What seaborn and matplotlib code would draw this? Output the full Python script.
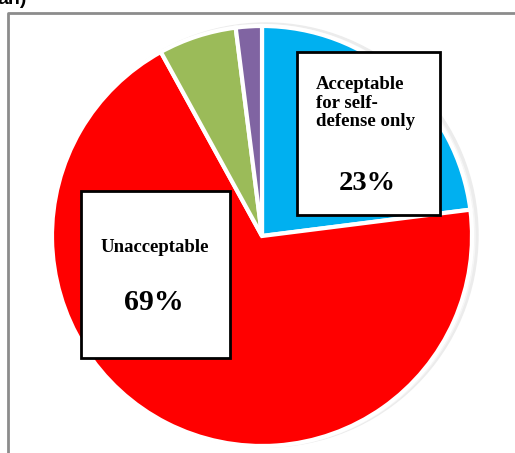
import matplotlib
matplotlib.use('Agg')
import matplotlib.pyplot as plt
import seaborn as sns
from matplotlib.patches import Rectangle, Circle

sns.set_style('white')
plt.rcParams['font.family'] = ['Liberation Serif', 'DejaVu Serif']
plt.rcParams['text.color'] = 'black'

# data (clockwise from 12 o'clock)
labels = ['Acceptable for self-defense only', 'Unacceptable', 'Other', 'Don\'t know']
shares = [23, 69, 6, 2]
colors = ['#00B0F0', '#FF0000', '#9BBB59', '#8064A2']
explode = [0.035, 0, 0, 0]

W, H = 515, 453
fig = plt.figure(figsize=(W / 100, H / 100), dpi=100)
ax = fig.add_axes([0, 0, 1, 1])

cx, cy, r = 262, H - 236, 210

# soft shadow to the right of the pie
ax.add_patch(Circle((cx + 4, cy + 1), r + 2, color='#ececec', zorder=0))
ax.add_patch(Circle((cx + 2, cy), r + 1, color='#f6f6f6', zorder=0))

wedges, _ = ax.pie(shares, colors=colors, explode=explode, startangle=90,
                   counterclock=False, center=(cx, cy), radius=r, frame=True,
                   wedgeprops=dict(edgecolor='white', linewidth=3))
for w in wedges:
    w.set_zorder(1)

ax.set_xlim(0, W)
ax.set_ylim(0, H)
ax.set_aspect('equal')
ax.axis('off')

# outer frame (chart area)
ax.plot([8, 8, W], [0, H - 13, H - 13], color='#8c8c8c', lw=2, zorder=3)

# label boxes
ax.add_patch(Rectangle((297, H - 215), 143, 163, facecolor='white',
                       edgecolor='black', lw=2, zorder=4))
ax.text(316, H - 76, 'Acceptable\nfor self-\ndefense only', fontsize=13.5,
        fontweight='bold', ha='left', va='top', linespacing=1.12, zorder=5)
ax.text(367, H - 183, f'{shares[0]}%', fontsize=20.5, fontweight='bold',
        ha='center', va='center', zorder=5)

ax.add_patch(Rectangle((81, H - 358), 149, 167, facecolor='white',
                       edgecolor='black', lw=2, zorder=4))
ax.text(155, H - 247, 'Unacceptable', fontsize=13.5, fontweight='bold',
        ha='center', va='center', zorder=5)
ax.text(154, H - 302, f'{shares[1]}%', fontsize=21.5, fontweight='bold',
        ha='center', va='center', zorder=5)

# cropped title remnant at top-left
fig.text(-0.005, 1.0, 'an)', fontsize=14, fontweight='bold', family='Liberation Sans',
         ha='left', va='center')

fig.savefig('out.png', dpi=100)
